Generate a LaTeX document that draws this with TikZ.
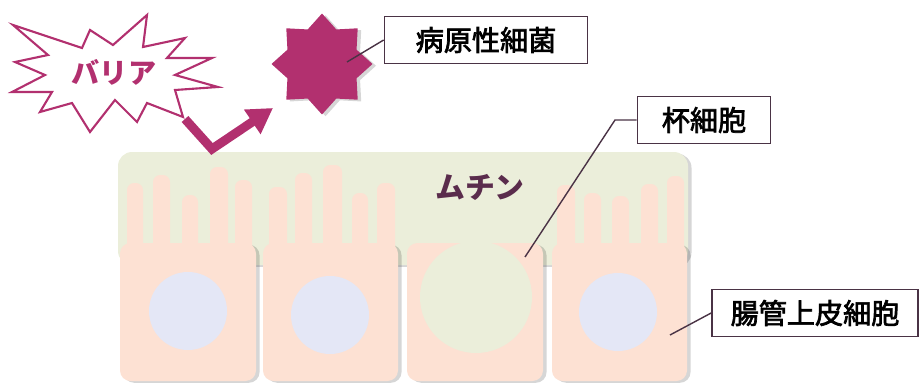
\documentclass[tikz,border=0pt]{standalone}
\usepackage{fontspec}
\newfontfamily\jpfont{Noto Sans CJK JP}
\newfontfamily\tagfont[FakeBold=2.5]{Noto Sans CJK JP}
\usetikzlibrary{shapes.geometric,arrows.meta,shadows}
\definecolor{barrier}{HTML}{B2306F}
\definecolor{cellpink}{HTML}{FDE1D3}
\definecolor{mucus}{HTML}{EBEEDA}
\definecolor{nucleus}{HTML}{E4E7F6}
\definecolor{boxline}{HTML}{4A3345}
\definecolor{mucintext}{HTML}{5A2C4C}

\begin{document}
\begin{tikzpicture}[x=0.02cm,y=-0.02cm]
		\tikzset{tag/.style={draw=boxline,line width=1pt,fill=white,font=\tagfont\fontsize{16}{16}\selectfont,minimum height=0.94cm,inner xsep=8pt},
			pin/.style={draw=boxline,line width=0.8pt},
			cell/.style={fill=cellpink,rounded corners=6pt},
			villus/.style={fill=cellpink,rounded corners=4pt},
			shade/.style={drop shadow={shadow xshift=2pt,shadow yshift=-1pt,fill=black,opacity=0.16}}}
		
		\useasboundingbox (0,0) rectangle (919,382);
		
		\fill[mucus,rounded corners=8pt,shade] (118,152) rectangle (688,265);
		\foreach \l/\r in {120/256,263/398,407/543,552/687}
			\fill[cell,shade] (\l,243) rectangle (\r,381);
		\foreach \x/\w/\t in {127/16/183,153/17/175,182/16/195,210/18/167,235/17/180,
			269/18/187,295/17/173,323/19/165,352/16/193,377/18/183,
			557/18/185,584/17/193,612/17/196,641/17/184,667/17/176}
			\fill[villus] (\x,\t) rectangle ({\x+\w},262);
		\foreach \c in {(188,311),(330,315),(618,312)}
			\fill[nucleus] \c circle (39);
		\fill[mucus] (476,297) circle (56);
		\node[font=\jpfont\bfseries\fontsize{17}{17}\selectfont,text=mucintext] (mucin) at (480,187) {ムチン};
		
		\draw[barrier,line width=1.2pt,fill=white] (13,25) -- (82,48) -- (90,30) -- (113,45) -- (147,15) -- (143,47) -- (185,38) -- (167,58) -- (212,58) -- (175,75) -- (218,87) -- (175,90) -- (183,117) -- (147,103) -- (137,122) -- (115,100) -- (90,132) -- (72,103) -- (40,112) -- (52,92) -- (12,92) -- (45,75) -- (15,62) -- (48,55) -- cycle;
		\node[text=barrier,font=\jpfont\bfseries\fontsize{16}{16}\selectfont] (barrier) at (114,72) {バリア};
		
		\coordinate (bounce in) at (185,119);
		\coordinate (bounce) at (212,149);
		\coordinate (bounce out) at (273,108);
		\draw[barrier,line width=0.18cm,-{Triangle[length=0.5cm,width=0.56cm]}] (bounce in) -- (bounce) -- (bounce out);
		
		\node[star,star points=8,star point ratio=1.35,minimum size=2.02cm,inner sep=0pt,fill=barrier,shade] (germ) at (322,64) {};
		\coordinate (germ pin) at (347,62);
		\node[tag,minimum width=4.06cm] (germ tag) at (486,40) {病原性細菌};
		\draw[pin] (germ pin) -- (germ tag.west);
		
		\node[tag,minimum width=2.66cm] (goblet tag) at (704,120) {杯細胞};
		\coordinate (goblet pin) at (525,257);
		\coordinate (goblet knee) at (615,120);
		\draw[pin] (goblet pin) -- (goblet knee) -- (goblet tag.west);
		
		\node[tag,minimum width=4.12cm] (cell tag) at (815,313) {腸管上皮細胞};
		\coordinate (cell pin) at (670,335);
		\draw[pin] (cell pin) -- (cell tag.west);
\end{tikzpicture}
\end{document}
